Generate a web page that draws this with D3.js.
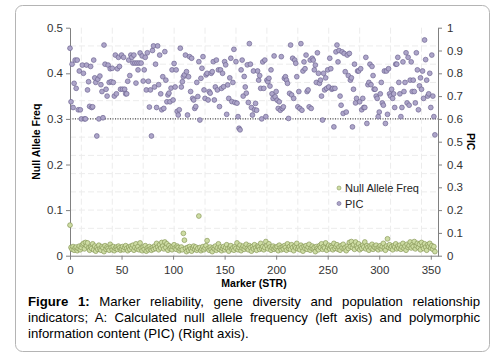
<!DOCTYPE html>
<html><head><meta charset="utf-8">
<script src="https://cdn.jsdelivr.net/npm/d3@7"></script>
<style>
body{margin:0;background:#fff;font-family:"Liberation Sans",Arial,sans-serif;}
#wrap{position:relative;width:498px;height:363px;}
#cap{position:absolute;left:28px;top:294px;width:452px;font-size:13.2px;line-height:16px;color:#000;}
#cap div{white-space:nowrap;}
#cap .j{text-align:justify;text-align-last:justify;white-space:normal;}
</style></head>
<body><div id="wrap"><svg id="chart" width="498" height="363"></svg>
<div id="cap"><div class="j"><b>Figure 1:</b> Marker reliability, gene diversity and population relationship</div><div class="j">indicators; A: Calculated null allele frequency (left axis) and polymorphic</div><div>information content (PIC) (Right axis).</div></div></div>
<script>
const leftTicks=[0,0.1,0.2,0.3,0.4,0.5];
const rightTicks=[0,0.1,0.2,0.3,0.4,0.5,0.6,0.7,0.8,0.9,1];
const xTicks=[0,50,100,150,200,250,300,350];
const seriesNames=["Null Allele Freq","PIC"];
const nullAllele=[
0.067,0.018,0.014,0.020,0.012,0.017,0.019,0.011,0.016,0.021,
0.013,0.018,0.024,0.027,0.015,0.029,0.022,0.028,0.017,0.012,
0.019,0.016,0.026,0.013,0.021,0.010,0.018,0.014,0.023,0.015,
0.012,0.020,0.017,0.009,0.022,0.014,0.019,0.016,0.012,0.025,
0.018,0.013,0.020,0.011,0.016,0.019,0.014,0.021,0.017,0.012,
0.015,0.020,0.013,0.018,0.022,0.016,0.011,0.019,0.014,0.021,
0.017,0.023,0.012,0.018,0.026,0.015,0.020,0.013,0.028,0.016,
0.011,0.019,0.014,0.022,0.010,0.017,0.013,0.020,0.015,0.012,
0.018,0.014,0.021,0.016,0.027,0.019,0.013,0.024,0.017,0.029,
0.021,0.015,0.030,0.018,0.026,0.012,0.022,0.016,0.019,0.013,
0.020,0.024,0.017,0.014,0.021,0.018,0.011,0.015,0.019,0.013,
0.049,0.034,0.016,0.009,0.018,0.012,0.020,0.015,0.010,0.017,
0.021,0.014,0.019,0.012,0.016,0.087,0.018,0.011,0.015,0.020,
0.013,0.017,0.022,0.033,0.016,0.012,0.019,0.014,0.009,0.018,
0.015,0.021,0.012,0.017,0.026,0.014,0.019,0.011,0.016,0.020,
0.013,0.018,0.024,0.015,0.010,0.019,0.022,0.014,0.017,0.012,
0.020,0.016,0.028,0.013,0.018,0.023,0.011,0.017,0.021,0.014,
0.019,0.025,0.016,0.013,0.022,0.018,0.010,0.020,0.015,0.024,
0.017,0.012,0.021,0.019,0.014,0.027,0.016,0.020,0.013,0.018,
0.031,0.022,0.015,0.026,0.019,0.012,0.017,0.021,0.014,0.018,
0.016,0.020,0.011,0.023,0.017,0.013,0.019,0.015,0.022,0.018,
0.012,0.026,0.016,0.020,0.014,0.024,0.018,0.011,0.021,0.017,
0.027,0.015,0.019,0.013,0.023,0.018,0.010,0.020,0.016,0.022,
0.014,0.019,0.025,0.012,0.017,0.021,0.015,0.018,0.009,0.020,
0.016,0.013,0.022,0.018,0.026,0.014,0.020,0.017,0.028,0.012,
0.019,0.023,0.015,0.021,0.018,0.013,0.027,0.016,0.020,0.024,
0.014,0.019,0.012,0.022,0.017,0.025,0.015,0.018,0.011,0.021,
0.016,0.029,0.020,0.031,0.018,0.024,0.014,0.030,0.021,0.017,
0.026,0.013,0.020,0.016,0.023,0.019,0.030,0.015,0.022,0.018,
0.012,0.021,0.017,0.025,0.014,0.020,0.018,0.023,0.016,0.013,
0.019,0.022,0.015,0.020,0.027,0.017,0.012,0.021,0.037,0.018,
0.024,0.016,0.020,0.013,0.022,0.019,0.026,0.015,0.021,0.017,
0.023,0.014,0.019,0.027,0.016,0.021,0.012,0.025,0.018,0.022,
0.030,0.017,0.024,0.020,0.031,0.015,0.022,0.027,0.018,0.025,
0.013,0.029,0.021,0.016,0.026,0.019,0.012,0.024,0.020,0.027,
0.017,0.022,0.014,0.020,0.009];
const pic=[
0.91,0.675,0.84,0.65,0.756,0.858,0.734,0.858,0.64,0.81,
0.64,0.60,0.836,0.80,0.60,0.60,0.836,0.727,0.763,0.655,
0.83,0.65,0.653,0.858,0.78,0.76,0.525,0.774,0.60,0.788,
0.75,0.72,0.605,0.924,0.84,0.73,0.70,0.836,0.76,0.82,
0.763,0.822,0.76,0.70,0.88,0.71,0.82,0.87,0.83,0.73,
0.88,0.73,0.87,0.73,0.71,0.71,0.765,0.858,0.79,0.88,
0.87,0.845,0.88,0.845,0.757,0.845,0.815,0.845,0.889,0.845,
0.876,0.766,0.815,0.87,0.727,0.89,0.765,0.652,0.727,0.525,
0.90,0.92,0.74,0.84,0.65,0.92,0.75,0.88,0.71,0.64,
0.785,0.646,0.895,0.77,0.675,0.705,0.713,0.675,0.735,0.815,
0.683,0.843,0.74,0.815,0.633,0.617,0.64,0.91,0.74,0.763,
0.785,0.793,0.88,0.807,0.617,0.785,0.873,0.72,0.866,0.69,
0.683,0.646,0.654,0.76,0.698,0.851,0.595,0.778,0.822,0.873,
0.727,0.69,0.793,0.80,0.683,0.72,0.713,0.80,0.807,0.851,
0.683,0.74,0.858,0.727,0.815,0.654,0.815,0.734,0.80,0.741,
0.851,0.837,0.62,0.749,0.69,0.78,0.866,0.676,0.76,0.905,
0.672,0.851,0.669,0.61,0.559,0.552,0.815,0.858,0.70,0.786,
0.74,0.713,0.837,0.672,0.93,0.84,0.65,0.617,0.81,0.64,
0.668,0.638,0.81,0.77,0.79,0.734,0.60,0.85,0.734,0.858,
0.61,0.77,0.763,0.778,0.744,0.815,0.71,0.69,0.876,0.697,
0.72,0.682,0.646,0.675,0.638,0.873,0.646,0.653,0.778,0.785,
0.77,0.756,0.602,0.712,0.924,0.705,0.866,0.69,0.858,0.844,
0.785,0.653,0.72,0.646,0.93,0.638,0.81,0.85,0.82,0.88,
0.72,0.727,0.653,0.858,0.646,0.866,0.858,0.815,0.836,0.76,
0.89,0.80,0.756,0.77,0.70,0.595,0.80,0.727,0.78,0.734,
0.815,0.74,0.866,0.82,0.73,0.734,0.565,0.734,0.894,0.924,
0.85,0.90,0.70,0.66,0.894,0.624,0.887,0.807,0.63,0.88,
0.79,0.887,0.77,0.78,0.565,0.73,0.84,0.67,0.69,0.81,
0.81,0.675,0.82,0.64,0.69,0.65,0.65,0.87,0.58,0.75,
0.76,0.84,0.75,0.83,0.79,0.73,0.73,0.70,0.69,0.61,
0.63,0.71,0.76,0.67,0.66,0.81,0.58,0.81,0.62,0.82,
0.71,0.70,0.73,0.69,0.71,0.65,0.84,0.84,0.87,0.76,
0.71,0.61,0.65,0.85,0.72,0.76,0.89,0.67,0.87,0.66,
0.77,0.85,0.72,0.77,0.72,0.67,0.89,0.815,0.64,0.745,
0.78,0.73,0.81,0.69,0.946,0.86,0.77,0.70,0.71,0.80,
0.65,0.88,0.70,0.61,0.53];
const thresholdPIC=0.6;

const svg=d3.select("#chart");
const font='"Liberation Sans",Arial,sans-serif';
svg.append("rect").attr("x",15.5).attr("y",5.5).attr("width",474).attr("height",346)
  .attr("rx",7).attr("fill","#fff").attr("stroke","#b4b4b4").attr("stroke-width",1);

const x=d3.scaleLinear().domain([0,357]).range([70,438]);
const yL=d3.scaleLinear().domain([0,0.5]).range([255.7,27.7]);
const yR=d3.scaleLinear().domain([0,1]).range([255.7,27.7]);

const g=svg.append("g");
g.selectAll("line.gx").data(d3.range(11,357,30)).enter().append("line")
  .attr("x1",d=>x(d)).attr("x2",d=>x(d)).attr("y1",yL(0.5)).attr("y2",yL(0))
  .attr("stroke","#ececec").attr("stroke-dasharray","6,3");
g.selectAll("line.gy").data(d3.range(0.02,0.5,0.04)).enter().append("line")
  .attr("x1",x(0)).attr("x2",x(357)).attr("y1",d=>yL(d)).attr("y2",d=>yL(d))
  .attr("stroke","#ececec").attr("stroke-dasharray","6,3");

svg.append("line").attr("x1",x(0)).attr("x2",x(357)).attr("y1",yR(thresholdPIC)).attr("y2",yR(thresholdPIC))
  .attr("stroke","#222").attr("stroke-width",1).attr("stroke-dasharray","1,1.5");

function styleAxis(sel){
  sel.selectAll("path").attr("stroke","#808080");
  sel.selectAll("line").attr("stroke","#808080");
  sel.selectAll("text").attr("font-family",font).attr("font-size","11.5px").attr("fill","#333");
}
const ax=svg.append("g").attr("transform",`translate(0,${yL(0)})`)
  .call(d3.axisBottom(x).tickValues(xTicks).tickSize(4).tickSizeOuter(0).tickFormat(d3.format("d")));
styleAxis(ax); ax.selectAll("text").attr("dy","0.95em");
const al=svg.append("g").attr("transform",`translate(${x(0)},0)`)
  .call(d3.axisLeft(yL).tickValues(leftTicks).tickSize(4).tickSizeOuter(0).tickFormat(d=>d===0?"0":d3.format(".1f")(d)));
styleAxis(al);
const ar=svg.append("g").attr("transform",`translate(${x(357)},0)`)
  .call(d3.axisRight(yR).tickValues(rightTicks).tickSize(4).tickSizeOuter(0).tickFormat(d=>d===0?"0":d===1?"1":d3.format(".1f")(d)));
styleAxis(ar); ar.selectAll("text").attr("x",9);

svg.append("g").selectAll("circle").data(nullAllele).enter().append("circle")
  .attr("cx",(d,i)=>x(i)).attr("cy",d=>yL(d)).attr("r",2.4)
  .attr("fill","#cddca3").attr("stroke","#8a9a5a").attr("stroke-width",0.7);
svg.append("g").selectAll("circle").data(pic).enter().append("circle")
  .attr("cx",(d,i)=>x(i)).attr("cy",d=>yR(d)).attr("r",2.4)
  .attr("fill","#ada5c9").attr("stroke","#6f6692").attr("stroke-width",0.7);

svg.append("text").attr("transform",`translate(40,${(yL(0)+yL(0.5))/2}) rotate(-90)`)
  .attr("text-anchor","middle").attr("font-family",font).attr("font-size","10.5px").attr("font-weight","bold").text("Null Allele Freq");
svg.append("text").attr("transform",`translate(467,${(yL(0)+yL(0.5))/2}) rotate(90)`)
  .attr("text-anchor","middle").attr("font-family",font).attr("font-size","10.5px").attr("font-weight","bold").text("PIC");
svg.append("text").attr("x",(x(0)+x(357))/2).attr("y",287)
  .attr("text-anchor","middle").attr("font-family",font).attr("font-size","10.5px").attr("font-weight","bold").text("Marker (STR)");

const legColors=[["#cddca3","#8a9a5a"],["#ada5c9","#6f6692"]];
seriesNames.forEach((s,i)=>{
  const yy=188+i*15.5;
  svg.append("circle").attr("cx",339).attr("cy",yy).attr("r",2)
    .attr("fill",legColors[i][0]).attr("stroke",legColors[i][1]).attr("stroke-width",0.6);
  svg.append("text").attr("x",345).attr("y",yy+4).attr("font-family",font).attr("font-size","11px").attr("fill","#222").text(s);
});
</script></body></html>
